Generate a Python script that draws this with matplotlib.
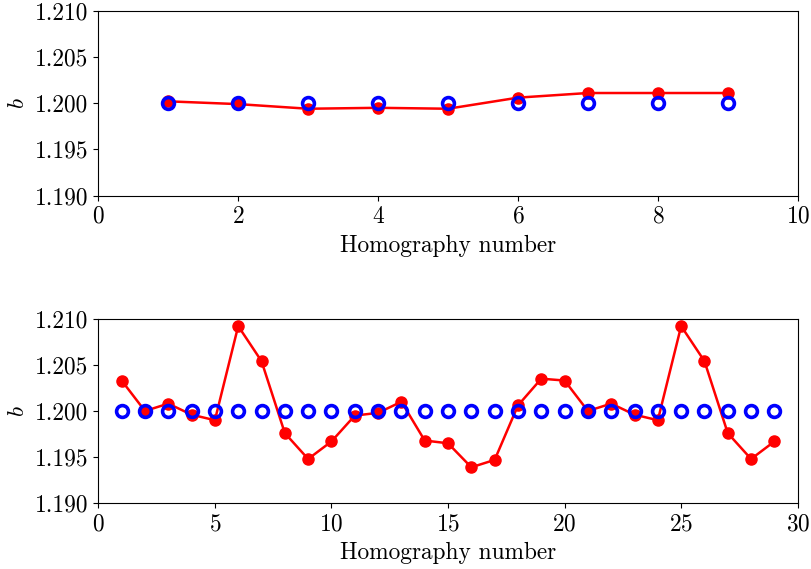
import matplotlib
matplotlib.use("Agg")
import matplotlib.pyplot as plt
from matplotlib.ticker import FormatStrFormatter, MultipleLocator

plt.rcParams['font.family'] = 'serif'
plt.rcParams['font.serif'] = ['cmr10']
plt.rcParams['mathtext.fontset'] = 'cm'
plt.rcParams['axes.formatter.use_mathtext'] = True
plt.rcParams['axes.unicode_minus'] = False

# Estimated b for each homography (red) against the true value (blue)
top_x = [1, 2, 3, 4, 5, 6, 7, 8, 9]
top_est = [1.2002, 1.1999, 1.1994, 1.1995, 1.1994, 1.2006, 1.2011, 1.2011, 1.2011]
top_true = [1.200] * 9

bot_x = list(range(1, 30))
bot_est = [1.2033, 1.2000, 1.2008, 1.1996, 1.1990, 1.2092, 1.2054, 1.1976, 1.1948,
           1.1967, 1.1995, 1.1998, 1.2010, 1.1968, 1.1965, 1.1939, 1.1947, 1.2006,
           1.2035, 1.2033, 1.2000, 1.2008, 1.1996, 1.1990, 1.2092, 1.2054, 1.1976,
           1.1948, 1.1967]
bot_true = [1.200] * 29

fig = plt.figure(figsize=(8.12, 5.69), dpi=100)
ax1 = fig.add_axes([0.1211, 0.6561, 0.8613, 0.3251])
ax2 = fig.add_axes([0.1211, 0.1155, 0.8613, 0.3244])

fs = 16.8
for ax, x, est, true, xmax, xstep in [(ax1, top_x, top_est, top_true, 10, 2),
                                       (ax2, bot_x, bot_est, bot_true, 30, 5)]:
    ax.plot(x, est, '-o', color='red', lw=1.8, markersize=8, zorder=2)
    ax.plot(x, true, 'o', color='blue', markerfacecolor='none',
            markeredgewidth=2.6, markersize=8.5, zorder=3)
    ax.set_xlim(0, xmax)
    ax.set_ylim(1.190, 1.210)
    ax.xaxis.set_major_locator(MultipleLocator(xstep))
    ax.yaxis.set_major_locator(MultipleLocator(0.005))
    ax.yaxis.set_major_formatter(FormatStrFormatter('%.3f'))
    ax.tick_params(labelsize=fs)
    ax.set_xlabel('Homography number', fontsize=fs, labelpad=5)
    ax.set_ylabel('$b$', fontsize=fs, labelpad=4.5)

fig.savefig('out.png', dpi=100)
